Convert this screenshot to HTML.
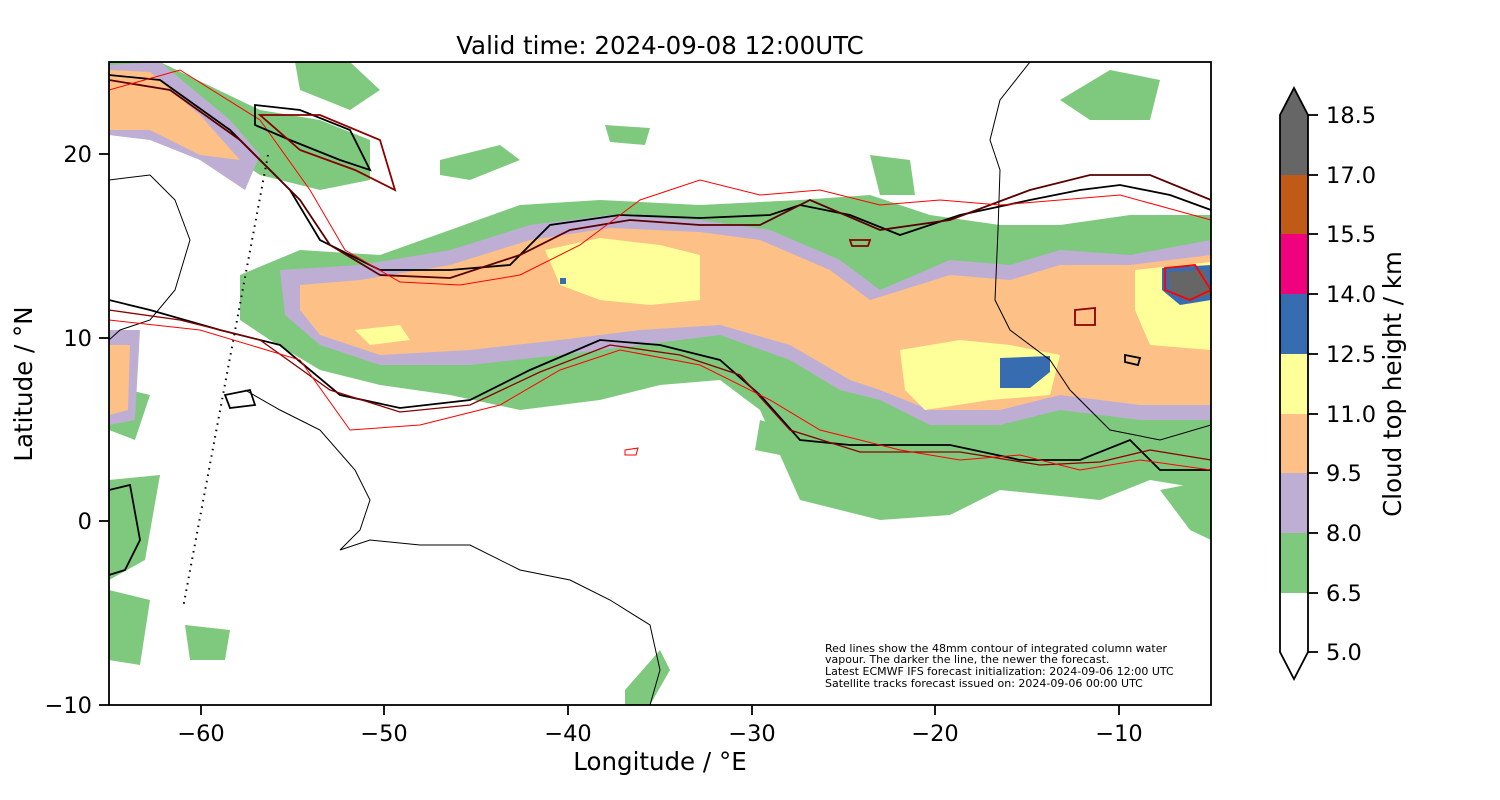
<!DOCTYPE html>
<html><head><meta charset="utf-8"><style>
body{margin:0;background:#fff;}
svg{display:block;font-family:"DejaVu Sans","Liberation Sans",sans-serif;}
</style></head><body>
<svg width="1500" height="800" viewBox="0 0 1500 800" xmlns="http://www.w3.org/2000/svg">
<defs><clipPath id="c"><rect x="109" y="62" width="1102" height="643"/></clipPath></defs>
<rect width="1500" height="800" fill="#fff"/>
<g clip-path="url(#c)">
<path fill="#7fc97f" d="M109,62 L160,62 L260,110 L320,120 L370,140 L370,180 L320,190 L260,175 L200,135 L150,130 L109,125Z"/>
<path fill="#7fc97f" d="M295,62 L350,62 L380,90 L350,110 L300,90Z"/>
<path fill="#7fc97f" d="M440,160 L500,145 L520,160 L470,180 L440,175Z"/>
<path fill="#7fc97f" d="M240,275 L300,250 L380,255 L450,230 L520,205 L600,200 L700,205 L800,200 L870,195 L930,215 L1000,225 L1060,225 L1130,215 L1211,215 L1211,490 L1150,480 L1100,500 L1000,490 L950,515 L880,520 L800,500 L780,455 L760,410 L720,380 L660,385 L600,400 L520,410 L450,395 L380,385 L320,370 L270,340 L240,320Z"/>
<path fill="#7fc97f" d="M870,155 L910,160 L915,195 L880,195Z"/>
<path fill="#7fc97f" d="M1060,100 L1110,70 L1160,80 L1150,120 L1090,120Z"/>
<path fill="#7fc97f" d="M109,385 L150,395 L135,440 L109,430Z"/>
<path fill="#7fc97f" d="M109,480 L160,475 L145,560 L109,580Z"/>
<path fill="#7fc97f" d="M109,590 L150,600 L140,665 L109,660Z"/>
<path fill="#7fc97f" d="M185,625 L230,630 L225,660 L190,660Z"/>
<path fill="#7fc97f" d="M625,690 L660,650 L670,670 L650,705 L625,705Z"/>
<path fill="#7fc97f" d="M1160,490 L1211,480 L1211,540 L1190,530Z"/>
<path fill="#7fc97f" d="M760,420 L790,430 L780,455 L755,450Z"/>
<path fill="#7fc97f" d="M605,125 L650,128 L645,145 L610,142Z"/>
<path fill="#beaed4" d="M109,65 L160,62 L230,120 L260,155 L245,190 L200,160 L150,140 L109,135Z"/>
<path fill="#beaed4" d="M280,270 L360,265 L450,250 L530,225 L610,215 L700,220 L770,230 L840,260 L880,290 L950,260 L1010,265 L1060,250 L1130,255 L1211,240 L1211,420 L1140,420 L1060,410 L1000,425 L930,425 L880,400 L840,390 L790,360 L720,335 L640,345 L560,355 L470,365 L380,365 L320,345 L285,315Z"/>
<path fill="#beaed4" d="M109,330 L140,330 L135,420 L109,425Z"/>
<path fill="#fdc086" d="M109,70 L150,72 L200,115 L240,160 L200,155 L150,130 L109,130Z"/>
<path fill="#fdc086" d="M300,285 L360,280 L450,265 L530,240 L610,228 L700,232 L760,240 L830,270 L870,300 L950,275 L1010,280 L1060,265 L1130,265 L1211,255 L1211,405 L1140,405 L1060,395 L1000,410 L930,410 L880,390 L850,380 L790,345 L720,325 L640,330 L560,340 L470,350 L380,355 L320,335 L300,310Z"/>
<path fill="#fdc086" d="M109,345 L130,345 L128,410 L109,415Z"/>
<path fill="#ffff99" d="M545,250 L600,238 L660,245 L700,255 L700,300 L650,305 L600,300 L560,285Z"/>
<path fill="#ffff99" d="M355,330 L400,325 L410,340 L370,345Z"/>
<path fill="#ffff99" d="M900,350 L960,340 L1010,345 L1060,355 L1050,395 L990,400 L925,410 L905,390Z"/>
<path fill="#ffff99" d="M1135,270 L1211,262 L1211,350 L1150,345 L1135,310Z"/>
<path fill="#386cb0" d="M1000,358 L1050,356 L1050,372 L1030,388 L1000,388Z"/>
<path fill="#386cb0" d="M1162,268 L1211,265 L1211,300 L1180,305 L1162,290Z"/>
<path fill="#666666" d="M1168,272 L1205,270 L1211,295 L1185,300 L1170,290Z"/>
<rect x="560" y="278" width="6" height="6" fill="#386cb0"/>
<g fill="none" stroke="#000" stroke-width="1">
<path d="M245,390 L280,410 L320,430 L355,470 L370,500 L360,530 L340,550 L370,540 L420,545 L470,545 L520,570 L570,580 L610,600 L650,625 L660,670 L650,705"/>
<path d="M1030,62 L1000,100 L990,140 L1000,170 L998,230 L995,300 L1010,330 L1050,360 L1070,390 L1110,430 L1160,440 L1211,425"/>
<path d="M109,180 L150,175 L175,200 L190,240 L175,290 L150,320 L120,330 L109,340"/>
</g>
<path d="M268,155 L183,608" fill="none" stroke="#000" stroke-width="2" stroke-dasharray="1.5,5"/>
<g fill="none" stroke-width="1.8">
<path stroke="#000" d="M109,75 L160,80 L230,130 L290,190 L320,240 L380,270 L450,270 L510,265 L550,225 L620,215 L700,218 L770,215 L800,205 L850,215 L900,235 L960,215 L1030,200 L1080,190 L1120,185 L1170,195 L1211,210"/>
<path stroke="#000" d="M109,300 L150,310 L220,330 L280,345 L340,395 L400,408 L470,400 L530,370 L600,340 L660,345 L720,360 L760,395 L800,440 L850,445 L950,445 L1020,460 L1080,460 L1130,440 L1160,470 L1211,470"/>
<path stroke="#5a0000" d="M109,80 L170,90 L240,140 L300,200 L330,245 L380,275 L450,278 L520,255 L570,230 L630,220 L700,225 L760,225 L810,200 L880,230 L950,220 L1030,190 L1090,175 L1150,175 L1211,200"/>
<path stroke="#8b0000" stroke-width="1.3" d="M109,310 L180,320 L260,340 L330,390 L400,412 L470,405 L540,372 L610,345 L680,355 L740,375 L790,430 L860,452 L960,452 L1040,465 L1100,462 L1150,450 L1211,460"/>
<path stroke="#ff0000" stroke-width="1" d="M109,90 L180,70 L260,120 L310,190 L345,250 L400,282 L460,285 L520,275 L580,245 L640,200 L700,180 L760,195 L820,190 L880,205 L940,200 L1000,205 L1060,200 L1120,195 L1211,220"/>
<path stroke="#ff0000" stroke-width="1" d="M109,320 L200,330 L300,360 L350,430 L420,425 L500,405 L560,370 L620,350 L700,365 L770,400 L820,430 L900,450 L960,460 L1020,455 L1080,470 L1140,460 L1211,470"/>
<path stroke="#000" d="M255,105 L300,110 L350,130 L370,170 L340,160 L290,140 L255,125Z"/>
<path stroke="#8b0000" d="M260,115 L320,115 L380,140 L395,190 L355,170 L300,150Z"/>
<path stroke="#000" d="M109,490 L130,485 L140,540 L125,570 L109,575"/>
<path stroke="#000" d="M225,395 L250,390 L255,405 L230,408Z"/>
<path stroke="#8b0000" d="M1075,310 L1095,308 L1095,325 L1075,325Z"/>
<path stroke="#ff0000" d="M1165,268 L1195,265 L1211,290 L1190,300 L1165,290Z"/>
<path stroke="#8b0000" d="M850,240 L870,240 L868,246 L852,246Z"/>
<path stroke="#000" d="M1125,355 L1140,358 L1138,365 L1125,362Z"/>
<path stroke="#ff0000" stroke-width="1" d="M625,450 L638,448 L636,455 L625,455Z"/>
</g>
</g>
<rect x="109" y="62" width="1102" height="643" fill="none" stroke="#000" stroke-width="1.8"/>
<g stroke="#000" stroke-width="1.8">
<line x1="201" y1="705" x2="201" y2="715"/><line x1="384" y1="705" x2="384" y2="715"/><line x1="568" y1="705" x2="568" y2="715"/><line x1="752" y1="705" x2="752" y2="715"/><line x1="935" y1="705" x2="935" y2="715"/><line x1="1119" y1="705" x2="1119" y2="715"/>
<line x1="99" y1="154" x2="109" y2="154"/><line x1="99" y1="338" x2="109" y2="338"/><line x1="99" y1="521" x2="109" y2="521"/><line x1="99" y1="705" x2="109" y2="705"/>
</g>
<g font-size="22.5" fill="#000" text-anchor="middle">
<text x="201" y="741">−60</text><text x="384" y="741">−50</text><text x="568" y="741">−40</text><text x="752" y="741">−30</text><text x="935" y="741">−20</text><text x="1119" y="741">−10</text>
</g>
<g font-size="22.5" fill="#000" text-anchor="end">
<text x="92" y="162">20</text><text x="92" y="346">10</text><text x="92" y="529">0</text><text x="92" y="713">−10</text>
</g>
<text x="660" y="54" font-size="24.5" text-anchor="middle">Valid time: 2024-09-08 12:00UTC</text>
<text x="660" y="770" font-size="24.5" text-anchor="middle">Longitude / °E</text>
<text transform="translate(32,384) rotate(-90)" font-size="24.5" text-anchor="middle">Latitude / °N</text>
<g font-size="11" fill="#000">
<text x="825" y="652">Red lines show the 48mm contour of integrated column water</text>
<text x="825" y="663">vapour. The darker the line, the newer the forecast.</text>
<text x="825" y="675">Latest ECMWF IFS forecast initialization: 2024-09-06 12:00 UTC</text>
<text x="825" y="687">Satellite tracks forecast issued on: 2024-09-06 00:00 UTC</text>
</g>
<polygon points="1280,652 1308,652 1294,679" fill="#fff"/>
<rect x="1280" y="593" width="28" height="59" fill="#fff"/>
<rect x="1280" y="533" width="28" height="60" fill="#7fc97f"/>
<rect x="1280" y="473" width="28" height="60" fill="#beaed4"/>
<rect x="1280" y="414" width="28" height="59" fill="#fdc086"/>
<rect x="1280" y="354" width="28" height="60" fill="#ffff99"/>
<rect x="1280" y="294" width="28" height="60" fill="#386cb0"/>
<rect x="1280" y="234" width="28" height="60" fill="#f0027f"/>
<rect x="1280" y="175" width="28" height="59" fill="#bf5b17"/>
<rect x="1280" y="115" width="28" height="60" fill="#666666"/>
<polygon points="1280,115 1308,115 1294,88" fill="#666666"/>
<path d="M1280,652 L1280,115 L1294,88 L1308,115 L1308,652 L1294,679Z" fill="none" stroke="#000" stroke-width="1.8"/>
<g stroke="#000" stroke-width="1.8">
<line x1="1308" y1="115" x2="1318" y2="115"/><line x1="1308" y1="175" x2="1318" y2="175"/><line x1="1308" y1="234" x2="1318" y2="234"/><line x1="1308" y1="294" x2="1318" y2="294"/><line x1="1308" y1="354" x2="1318" y2="354"/><line x1="1308" y1="414" x2="1318" y2="414"/><line x1="1308" y1="473" x2="1318" y2="473"/><line x1="1308" y1="533" x2="1318" y2="533"/><line x1="1308" y1="593" x2="1318" y2="593"/><line x1="1308" y1="652" x2="1318" y2="652"/>
</g>
<g font-size="22.5" fill="#000">
<text x="1326" y="123">18.5</text><text x="1326" y="183">17.0</text><text x="1326" y="242">15.5</text><text x="1326" y="302">14.0</text><text x="1326" y="362">12.5</text><text x="1326" y="422">11.0</text><text x="1326" y="481">9.5</text><text x="1326" y="541">8.0</text><text x="1326" y="601">6.5</text><text x="1326" y="660">5.0</text>
</g>
<text transform="translate(1401,384) rotate(-90)" font-size="24.5" text-anchor="middle">Cloud top height / km</text>
</svg>
</body></html>
